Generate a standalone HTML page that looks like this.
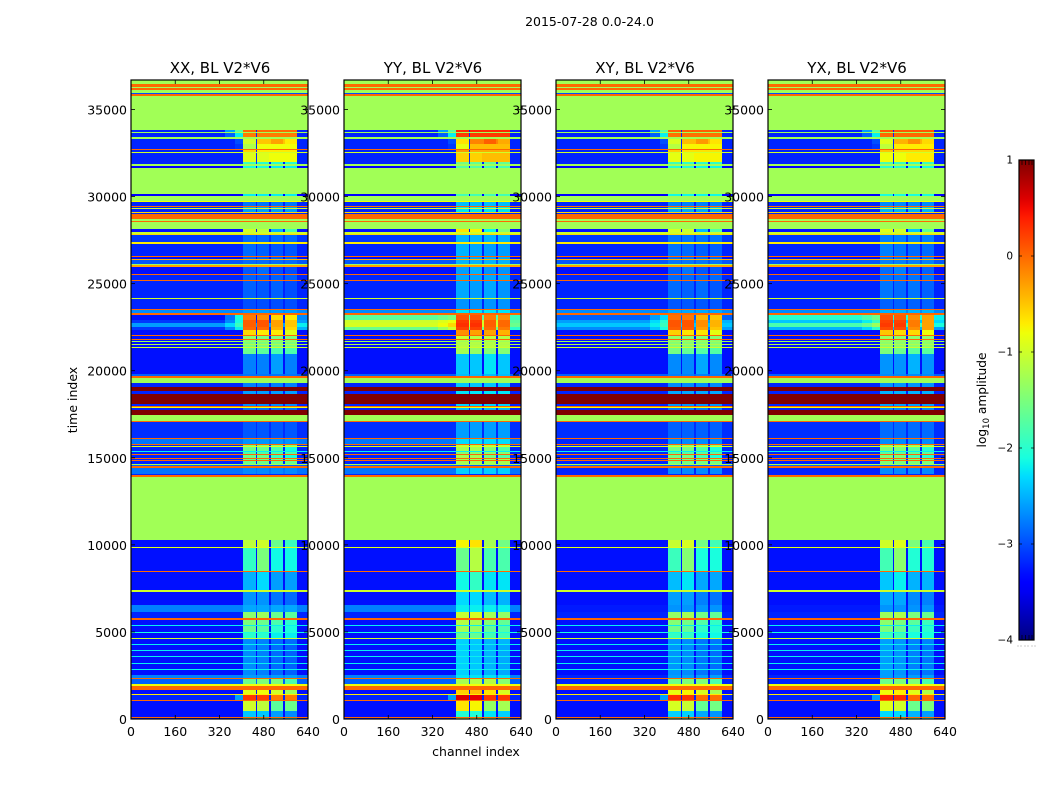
<!DOCTYPE html>
<html>
<head>
<meta charset="utf-8">
<title>Dynamic spectra BL V2*V6</title>
<style>
html,body{margin:0;padding:0;background:#fff;}
svg{display:block;}
text{font-family:"DejaVu Sans","Liberation Sans",sans-serif;fill:#000;}
</style>
</head>
<body>
<svg id="figure" width="1050" height="800" viewBox="0 0 1050 800" xmlns="http://www.w3.org/2000/svg">
  <defs>
    <linearGradient id="jetGradient" x1="0" y1="1" x2="0" y2="0"></linearGradient>
  </defs>
  <text x="589.5" y="26" font-size="12.5" text-anchor="middle">2015-07-28 0.0-24.0</text>
  <g id="panels"></g>
  <text transform="translate(77,400) rotate(-90)" font-size="12.5" text-anchor="middle">time index</text>
  <text x="476" y="756" font-size="12.5" text-anchor="middle">channel index</text>
  <g id="colorbar"></g>
  <text transform="translate(986,400) rotate(-90)" font-size="12.2" text-anchor="middle">log<tspan font-size="8.5" dy="3">10</tspan><tspan dy="-3"> amplitude</tspan></text>
</svg>
<script>
const G = -1.27, O = 0, R = 1;
const panelTitles = ['XX, BL V2*V6', 'YY, BL V2*V6', 'XY, BL V2*V6', 'YX, BL V2*V6'];
const xTickValues = [0, 160, 320, 480, 640];
const yTickValues = [0, 5000, 10000, 15000, 20000, 25000, 30000, 35000];
const colorTickValues = [1, 0, -1, -2, -3, -4];
const channelColumns = ['bg', 'outer', 'shoulder', 'b1', 'gap1', 'b2', 'gap2', 'b3', 'gap3', 'b4', 'right'];
const channelEdges = [0, 340, 375, 406, 451, 456, 499, 506, 551, 558, 600, 640];
const timeMax = 36695;
const bandLift = [0, 0.35, 0.05, 0.1];

/* rows: time at top of row, background, band levels (one value = all bands),
   then optional shoulder, right-of-band, gap-fill and outer-shoulder levels, in log10 amplitude */
const sharedRows = [
[36695,G],[36485,O],[36274,G],[36216,O],[36120,G],[35967,-3],[35891,O],[35776,G],
[33822,-3.2,O,O,O,O,-1.7,-3.2,O,-2.6],[33707,G],[33630,-3.2,-0.1,-0.1,-0.1,-0.1,-2.2,-3.2,-0.1,-2.9],[33439,G],
[33304,-3.2,-1,-0.5,-0.3,-0.7,-3.0,-3.2,-0.5],[33000,-3.2,-1.2,-0.8,-0.8,-0.8,-3.1,-3.2,-0.8],[32730,O],[32672,-3.2,-0.6,-0.7,-0.7,-0.7,-3.2,-3.2,-0.7],[32557,-1],
[32519,-3.2,-0.9,-0.9,-0.8,-0.8,-3.2,-3.2,-0.8],[32002,-3.2,-1.9,-2,-2,-2],[31868,G],[31753,-3.4,-2.1,-2.1,-2.2,-2.2],[31657,G],
[30144,-3.4,-2.2,-2.2,-2.2,-2.2],[30029,G],[29760,-0.8],[29665,-3.2,-2.8],[29454,O],[29396,-3.2,-2.6],[29320,-1],[29262,-3.2,-2.6],
[29128,-0.6],[29071,-3.2],[28994,O],[28707,G],[28592,O],[28534,G],[28132,-3.3,-1,-1.1,-2.5,-1.8],[27940,-1],[27864,-0.6],
[27768,-3.1,-2.85],[27366,-0.7],[27289,-3.2,-2.85,-2.9,-2.95,-2.95],[26580,O],[26523,-3.3,-2.9],[26427,-0.4],[26370,-2.95,-2.85],
[26120,-1.3],[26044,-0.3],[25929,-3.3,-2.95,-2.85,-3,-3],[25546,O],[25488,-3.2,-2.9],[25201,O],[25143,-3.2,-2.9,-2.95,-2.9,-3],
[24166,-1],[24109,-3.2,-3],[23534,O],[23477,-2.7,-2.6],[23304,O],
[23189,-3.3,-0.1,-0.2,-0.6,-0.7,-2.1,-2.7,undefined,-2.8],[22902,-3.1,0.05,0.1,-0.3,-0.5,-2.1,-2.6,undefined,-2.7],
[22750,-2.6,0.05,0.1,-0.3,-0.5,-1.9,-2.2,undefined,-2.3],[22519,-3.1,0,0,-0.4,-0.6,-2.2,-2.5,undefined,-2.7],[22327,-3.3,-0.6,-0.7,-0.7,-0.9],
[22040,O],[21983,-3.3,-1.4,-1.5,-1.5,-1.5],[21848,O],[21791,-3.3,-1.5],[21695,-1.3],[21638,-3.3,-1.5],[21523,-1.2],[21465,-3.3,-1.5],
[21350,-1],[21293,-3.3,-1.6,-1.7,-1.8,-1.8],[20987,-3.3,-2.75,-2.75,-2.6,-2.75],[19837,-2.9,-2.8],[19684,O],[19607,G],[19300,-3.2,-2.75],
[19071,R],[18821,-3.2,-2.6],[18688,R],[18074,-3.2,-2.7],[17960,O],[17902,-0.8],[17845,-3.2,-2.8],[17768,R],[17442,G],[17098,O],
[17040,-3.15,-2.95],[16120,O],[16063,-2.8,-2.65],[15814,O],[15737,-3.2,-1.5],[15660,-0.9],[15603,-3.2,-1.6,-1.6,-1.8,-2.1],[15392,-2.2],
[15335,-3.2,-1.8],[15240,O],[15182,-3.2,-1.6,-1.6,-1.9,-2.1],[15010,O],[14952,-3.2,-1.6],[14856,O],[14799,-3.2,-1.6],[14665,-1.2],
[14608,-2.9],[14531,O],[14416,-2.8,-2.7],[14090,-3.2],[13994,O],[13899,G],
[10258,-3.3,-1.1,-1,-1.6,-1.9],[9875,-0.9],[9818,-3.3,-1.95,-1.5,-2.15,-2.15],[8476,O],[8419,-3.3,-2.5,-2.3,-2.6,-2.6],[7385,-1],
[7308,-3.3,-2.65,-2.65,-2.8,-2.85],[6522,-2.75,-2.55],[6139,-3.2,-1.4,-1.3,-1.6,-1.7],[5814,O],[5660,-3.3,-1.5,-1.6,-1.8,-2],[5373,-2.2],
[5316,-3.3,-1.6,-1.7,-2,-2.1],[4990,-2.1],[4933,-3.3,-2,-2,-2.2,-2.2],[4646,-1],[4588,-3.3,-2.7,-2.75,-2.85,-2.85],[4281,-2.2],
[4224,-3.3,-2.7,-2.75,-2.85,-2.9],[3937,-2.2],[3880,-3.3,-2.7,-2.75,-2.85,-2.9],[3592,-2.2],[3535,-3.3,-2.7,-2.75,-2.85,-2.9],[3208,-2.2],
[3151,-3.3,-2.7,-2.75,-2.85,-2.9],[2845,-2.2],[2788,-3.3,-2.7,-2.75,-2.85,-2.9],[2500,-2.75,-2.6],[2365,O],[2308,-2.9,-1.6,-1.5,-1.5,-1.8],
[1983,-0.8],[1906,O],[1676,-3.3,-0.9,-0.8,-1,-1.3],[1446,-0.7],[1369,-3.2,0.25,0.2,-0.1,-0.1,-2.6],[1063,O],[1006,-3.3,-1,-1.1,-1.7,-1.6],
[488,-3.3,-2.4,-2.4,-2.6,-2.7],[143,O],[66,-3.3,-1.5,-1.5,-1.8,-2.2]
];
const xxOverrides = [];
const yyOverrides = [
[23189,-1.7,0.1,0.1,-0.1,-0.2,-1.5,-1.9,undefined,-1.6],
[22902,-1,0.25,0.25,0.05,0,-0.8,-1.7,undefined,-0.9],
[22750,-0.95,0.3,0.3,0.05,0,-0.6,-1.6,undefined,-0.8],
[22519,-1.6,0.2,0.2,0,-0.1,-1,-2,undefined,-1.3],
[22327,-3.3,-0.2,-0.3,-0.3,-0.4]
];
const xyOverrides = [
[23189,-2.9,-0.05,-0.1,-0.4,-0.5,-2.3,-2.9,undefined,-2.6],
[22902,-2.6,0.1,0.1,-0.2,-0.4,-2,-2.5,undefined,-2.3],
[22750,-2.4,0.1,0.1,-0.2,-0.4,-1.9,-2.4,undefined,-2.2],
[22519,-2.7,0.05,0.05,-0.3,-0.5,-2.1,-2.6,undefined,-2.4],
[6522,-3.25,-2.65],[2500,-3.2,-2.6],[16063,-3.2,-2.7],[14416,-3.2,-2.7],[2308,-3.2,-1.6,-1.5,-1.5,-1.8]
];
const yxOverrides = [
[23189,-2,0.1,0.05,-0.2,-0.3,-1.6,-2.2,undefined,-1.8],
[22902,-2.4,0.2,0.2,-0.1,-0.3,-1.9,-2.3,undefined,-2.2],
[22750,-1.8,0.25,0.25,-0.1,-0.3,-1.3,-2.1,undefined,-1.6],
[22519,-2.5,0.15,0.15,-0.2,-0.3,-2,-2.6,undefined,-2.3],
[6522,-3.25,-2.65],[2500,-3.2,-2.6],[16063,-3.2,-2.7],[14416,-3.2,-2.7],[2308,-3.2,-1.6,-1.5,-1.5,-1.8]
];
const panelOverrides = [xxOverrides, yyOverrides, xyOverrides, yxOverrides];

const SVG_NS = 'http://www.w3.org/2000/svg';
const plotTop = 80, plotBottom = 719;
const panelLefts = [131, 344, 556, 768];
const panelWidth = 177;
const barLeft = 1019, barRight = 1034, barTop = 160, barBottom = 640;

function lerpStops(stops, n) {
  for (let i = 1; i < stops.length; i++) {
    if (n <= stops[i][0]) {
      const a = stops[i - 1], b = stops[i];
      return a[1] + (b[1] - a[1]) * (n - a[0]) / (b[0] - a[0]);
    }
  }
  return stops[stops.length - 1][1];
}
function jet(n) {
  n = Math.max(0, Math.min(1, n));
  const r = lerpStops([[0, 0], [0.35, 0], [0.66, 1], [0.89, 1], [1, 0.5]], n);
  const g = lerpStops([[0, 0], [0.125, 0], [0.375, 1], [0.64, 1], [0.91, 0], [1, 0]], n);
  const b = lerpStops([[0, 0.5], [0.11, 1], [0.34, 1], [0.65, 0], [1, 0]], n);
  return 'rgb(' + Math.round(r * 255) + ',' + Math.round(g * 255) + ',' + Math.round(b * 255) + ')';
}
function colorFor(v) { return jet((v + 4) / 5); }
function make(tag, attrs) {
  const el = document.createElementNS(SVG_NS, tag);
  for (const k in attrs) el.setAttribute(k, attrs[k]);
  return el;
}
function xScale(left, ch) { return left + ch / 640 * panelWidth; }
function yScale(t) { return plotBottom - t / timeMax * (plotBottom - plotTop); }
function barY(v) { return barBottom - (v + 4) / 5 * (barBottom - barTop); }

function rowColumns(row, lift, useLift) {
  if (row.length === 2) return channelColumns.map(function () { return row[1]; });
  const bg = row[1];
  const add = useLift ? lift : 0;
  const b1 = row[2] + add;
  const b2 = (row.length >= 6 ? row[3] : row[2]) + add;
  const b3 = (row.length >= 6 ? row[4] : row[2]) + add;
  const b4 = (row.length >= 6 ? row[5] : row[2]) + add;
  const shoulder = row[6] !== undefined ? row[6] : bg;
  const right = row[7] !== undefined ? row[7] : bg;
  const bridge = row[8] !== undefined ? row[8] + add : bg;
  const outer = row[9] !== undefined ? row[9] : bg;
  return [bg, outer, shoulder, b1, bg, b2, bridge, b3, bridge, b4, right];
}

function drawPanel(root, idx) {
  const left = panelLefts[idx];
  const g = make('g', {});
  
  
  const overrides = {};
  panelOverrides[idx].forEach(function (r) { overrides[r[0]] = r; });
  sharedRows.forEach(function (baseRow, i) {
    const over = overrides[baseRow[0]];
    const row = over || baseRow;
    const values = rowColumns(row, bandLift[idx], !over);
    const tTop = baseRow[0];
    const tBottom = i + 1 < sharedRows.length ? sharedRows[i + 1][0] : 0;
    const y0 = Math.round(yScale(tTop));
    const y1 = Math.max(y0 + 1, Math.round(yScale(tBottom)));
    let c = 0;
    while (c < values.length) {
      let end = c;
      while (end + 1 < values.length && values[end + 1] === values[c]) end++;
      const x0 = Math.round(xScale(left, channelEdges[c]));
      const x1 = Math.round(xScale(left, channelEdges[end + 1]));
      const cell = make('rect', {
        x: x0, y: y0, width: x1 - x0, height: y1 - y0,
        fill: colorFor(values[c]), 'shape-rendering': 'crispEdges'
      });
      
      
      g.appendChild(cell);
      c = end + 1;
    }
  });
  const frame = make('rect', { x: left, y: plotTop, width: panelWidth, height: plotBottom - plotTop, fill: 'none', stroke: '#000', 'stroke-width': 1.2 });
  
  
  g.appendChild(frame);
  xTickValues.forEach(function (ch) {
    const x = xScale(left, ch);
    [[plotBottom, plotBottom - 4], [plotTop, plotTop + 4]].forEach(function (p) {
      const tick = make('line', { x1: x, x2: x, y1: p[0], y2: p[1], stroke: '#000', 'stroke-width': 0.8 });
      
      
      g.appendChild(tick);
    });
    const label = make('text', { x: x, y: 736, 'font-size': 12.5, 'text-anchor': 'middle' });
    
    
    label.textContent = String(ch);
    g.appendChild(label);
  });
  yTickValues.forEach(function (t) {
    const y = yScale(t);
    [[left, left + 4], [left + panelWidth, left + panelWidth - 4]].forEach(function (p) {
      const tick = make('line', { x1: p[0], x2: p[1], y1: y, y2: y, stroke: '#000', 'stroke-width': 0.8 });
      
      
      g.appendChild(tick);
    });
    const label = make('text', { x: left - 4, y: y + 5, 'font-size': 12.5, 'text-anchor': 'end' });
    
    
    label.textContent = String(t);
    g.appendChild(label);
  });
  const title = make('text', { x: left + panelWidth / 2 + 0.5, y: 73, 'font-size': 15, 'text-anchor': 'middle' });
  
  
  title.textContent = panelTitles[idx];
  g.appendChild(title);
  root.appendChild(g);
}

function drawColorbar(root) {
  const grad = document.getElementById('jetGradient');
  for (let i = 0; i <= 50; i++) {
    const stop = make('stop', { offset: (i / 50).toFixed(3), 'stop-color': jet(i / 50) });
    grad.appendChild(stop);
  }
  const bar = make('rect', { x: barLeft, y: barTop, width: barRight - barLeft, height: barBottom - barTop, fill: 'url(#jetGradient)', stroke: '#000', 'stroke-width': 1.2 });
  
  
  root.appendChild(bar);
  [1022, 1025.5, 1029, 1032].forEach(function (x) {
    [[barTop, barTop + 5], [barBottom, barBottom - 5]].forEach(function (p) {
      const tick = make('line', { x1: x, x2: x, y1: p[0], y2: p[1], stroke: '#000', 'stroke-width': 0.7 });
      
      
      root.appendChild(tick);
    });
  });
  [1018, 1021, 1025, 1028, 1032, 1035].forEach(function (x) {
    const dot = make('rect', { x: x - 0.5, y: 645.5, width: 1, height: 1, fill: '#999' });
    
    
    root.appendChild(dot);
  });
  colorTickValues.forEach(function (v) {
    const y = barY(v);
    [[barLeft, barLeft + 3], [barRight, barRight - 3]].forEach(function (p) {
      const tick = make('line', { x1: p[0], x2: p[1], y1: y, y2: y, stroke: '#000', 'stroke-width': 0.7 });
      
      
      root.appendChild(tick);
    });
    const label = make('text', { x: barLeft - 6, y: y + 3.5, 'font-size': 10.5, 'text-anchor': 'end' });
    
    
    label.textContent = v < 0 ? '\u2212' + Math.abs(v) : String(v);
    root.appendChild(label);
  });
}

const panelsRoot = document.getElementById('panels');
panelTitles.forEach(function (_, i) { drawPanel(panelsRoot, i); });
drawColorbar(document.getElementById('colorbar'));
</script>
</body>
</html>
